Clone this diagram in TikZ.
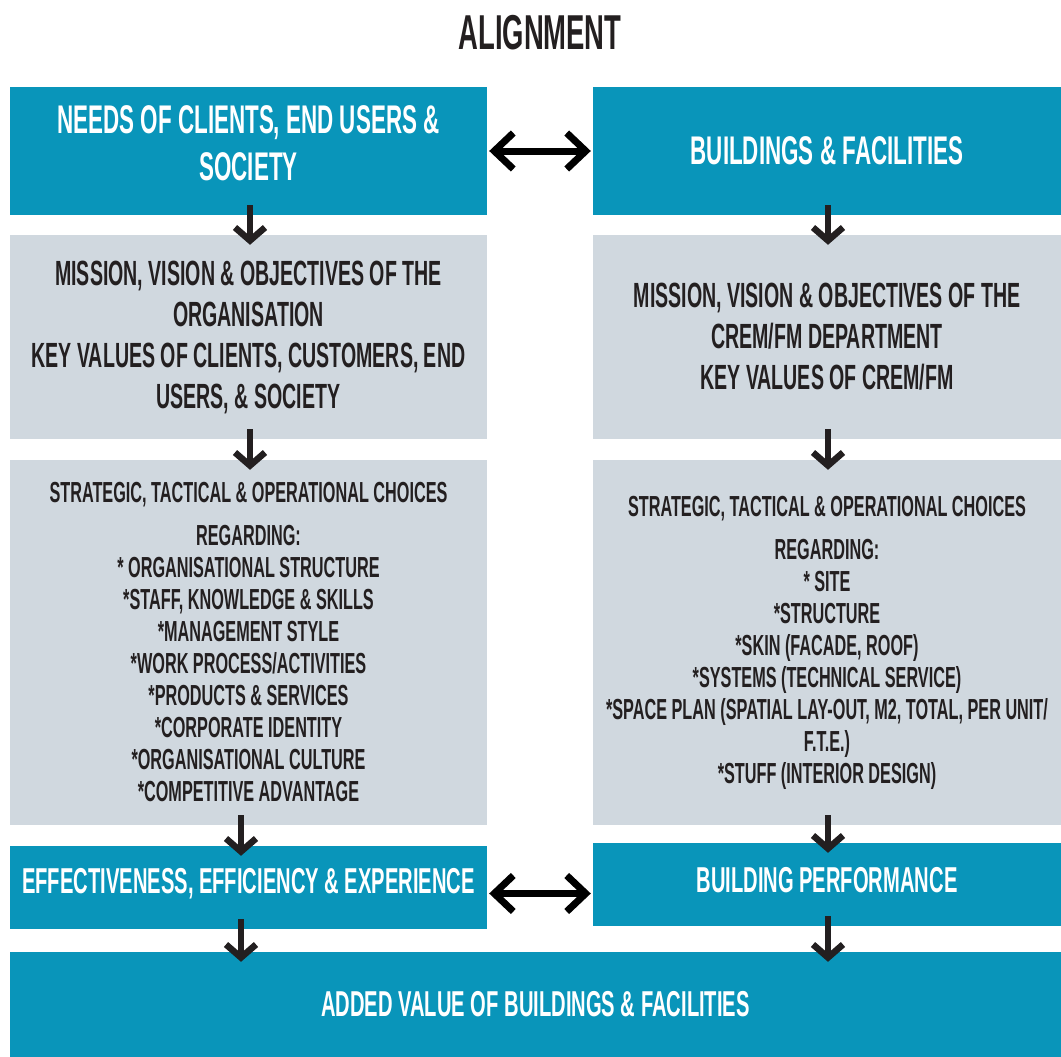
\documentclass[tikz,border=0pt]{standalone}
\usepackage{fontspec}
\setmainfont{Liberation Sans}[FakeStretch=0.56]
\usetikzlibrary{arrows.meta}
\definecolor{boxblue}{HTML}{0995BA}
\definecolor{boxgray}{HTML}{D0D8DF}
\definecolor{ink}{HTML}{231F20}
\begin{document}
\begin{tikzpicture}[x=1pt, y=1pt, every node/.style = {shape=rectangle, inner sep=0pt, align=center},
                        bluebox/.style = {fill=boxblue, text=white, font=\bfseries\fontsize{40}{47}\selectfont},
                        graybox/.style = {fill=boxgray, text=ink},
                        downarrow/.style = {-{Straight Barb[length=13pt, width=30pt]}, line width=6.5pt, ink},
                        twoway/.style = {{Straight Barb[length=19pt, width=36pt]}-{Straight Barb[length=19pt, width=36pt]}, line width=7pt, black, shorten <=2pt, shorten >=2pt}]
    \useasboundingbox (0,0) rectangle (1061,-1057);
    \node[text=ink, font=\bfseries\fontsize{49}{55}\selectfont] (title) at (540,-33) {ALIGNMENT};
    % top row
    \node[bluebox, minimum width=477pt, minimum height=128pt, text depth=15pt] (needs) at (248.5,-151)
        {NEEDS OF CLIENTS, END USERS \&\\SOCIETY};
    \node[bluebox, minimum width=468pt, minimum height=128pt] (facilities) at (827,-151)
        {BUILDINGS \& FACILITIES};
    % mission
    \node[graybox, minimum width=477pt, minimum height=204pt, font=\bfseries\fontsize{35}{41}\selectfont] (mission) at (248.5,-337)
        {MISSION, VISION \& OBJECTIVES OF THE\\ORGANISATION\\KEY VALUES OF CLIENTS, CUSTOMERS, END\\USERS, \& SOCIETY};
    \node[graybox, minimum width=468pt, minimum height=204pt, font=\bfseries\fontsize{35}{41}\selectfont] (crem) at (827,-337)
        {MISSION, VISION \& OBJECTIVES OF THE\\CREM/FM DEPARTMENT\\KEY VALUES OF CREM/FM};
    % choices
    \node[graybox, minimum width=477pt, minimum height=365pt, font=\bfseries\fontsize{29}{32}\selectfont] (orgchoices) at (248.5,-642.5)
        {STRATEGIC, TACTICAL \& OPERATIONAL CHOICES\\[11pt]REGARDING:\\* ORGANISATIONAL STRUCTURE\\*STAFF, KNOWLEDGE \& SKILLS\\*MANAGEMENT STYLE\\*WORK PROCESS/ACTIVITIES\\*PRODUCTS \& SERVICES\\*CORPORATE IDENTITY\\*ORGANISATIONAL CULTURE\\*COMPETITIVE ADVANTAGE};
    \node[graybox, minimum width=468pt, minimum height=365pt, font=\bfseries\fontsize{29}{32}\selectfont, text depth=6pt] (bldchoices) at (827,-642.5)
        {STRATEGIC, TACTICAL \& OPERATIONAL CHOICES\\[11pt]REGARDING:\\* SITE\\*STRUCTURE\\*SKIN (FACADE, ROOF)\\*SYSTEMS (TECHNICAL SERVICE)\\*SPACE PLAN (SPATIAL LAY-OUT, M2, TOTAL, PER UNIT/\\F.T.E.)\\*STUFF (INTERIOR DESIGN)};
    % results
    \node[bluebox, minimum width=477pt, minimum height=83pt, font=\bfseries\fontsize{36}{42}\selectfont, text depth=14pt] (effect) at (248.5,-887.5)
        {EFFECTIVENESS, EFFICIENCY \& EXPERIENCE};
    \node[bluebox, minimum width=468pt, minimum height=83pt, font=\bfseries\fontsize{36}{42}\selectfont, text depth=10pt] (perform) at (827,-884.5)
        {BUILDING PERFORMANCE};
    \node[bluebox, minimum width=1051pt, minimum height=105pt, font=\bfseries\fontsize{36}{42}\selectfont] (added) at (535.5,-1004.5)
        {ADDED VALUE OF BUILDINGS \& FACILITIES};
    % arrows
    \draw[downarrow] ([xshift=1.5pt, yshift=10pt]needs.south) -- ([xshift=1.5pt, yshift=-10pt]mission.north);
    \draw[downarrow] ([xshift=1.5pt, yshift=10pt]mission.south) -- ([xshift=1.5pt, yshift=-10pt]orgchoices.north);
    \draw[downarrow] ([xshift=-7.5pt, yshift=10pt]orgchoices.south) -- ([xshift=-7.5pt, yshift=-10pt]effect.north);
    \draw[downarrow] ([xshift=-7.5pt, yshift=10pt]effect.south) -- ([xshift=-7.5pt, yshift=-10pt]added.north -| effect.south);
    \draw[downarrow] ([xshift=1pt, yshift=10pt]facilities.south) -- ([xshift=1pt, yshift=-10pt]crem.north);
    \draw[downarrow] ([xshift=1pt, yshift=10pt]crem.south) -- ([xshift=1pt, yshift=-10pt]bldchoices.north);
    \draw[downarrow] ([xshift=1pt, yshift=10pt]bldchoices.south) -- ([xshift=1pt, yshift=-10pt]perform.north);
    \draw[downarrow] ([xshift=1pt, yshift=10pt]perform.south) -- ([xshift=1pt, yshift=-10pt]added.north -| perform.south);
    \draw[twoway] (needs.east) -- (facilities.west);
    \draw[twoway] ([yshift=-6pt]effect.east) -- ([yshift=-6pt]effect.east -| perform.west);
\end{tikzpicture}
\end{document}
